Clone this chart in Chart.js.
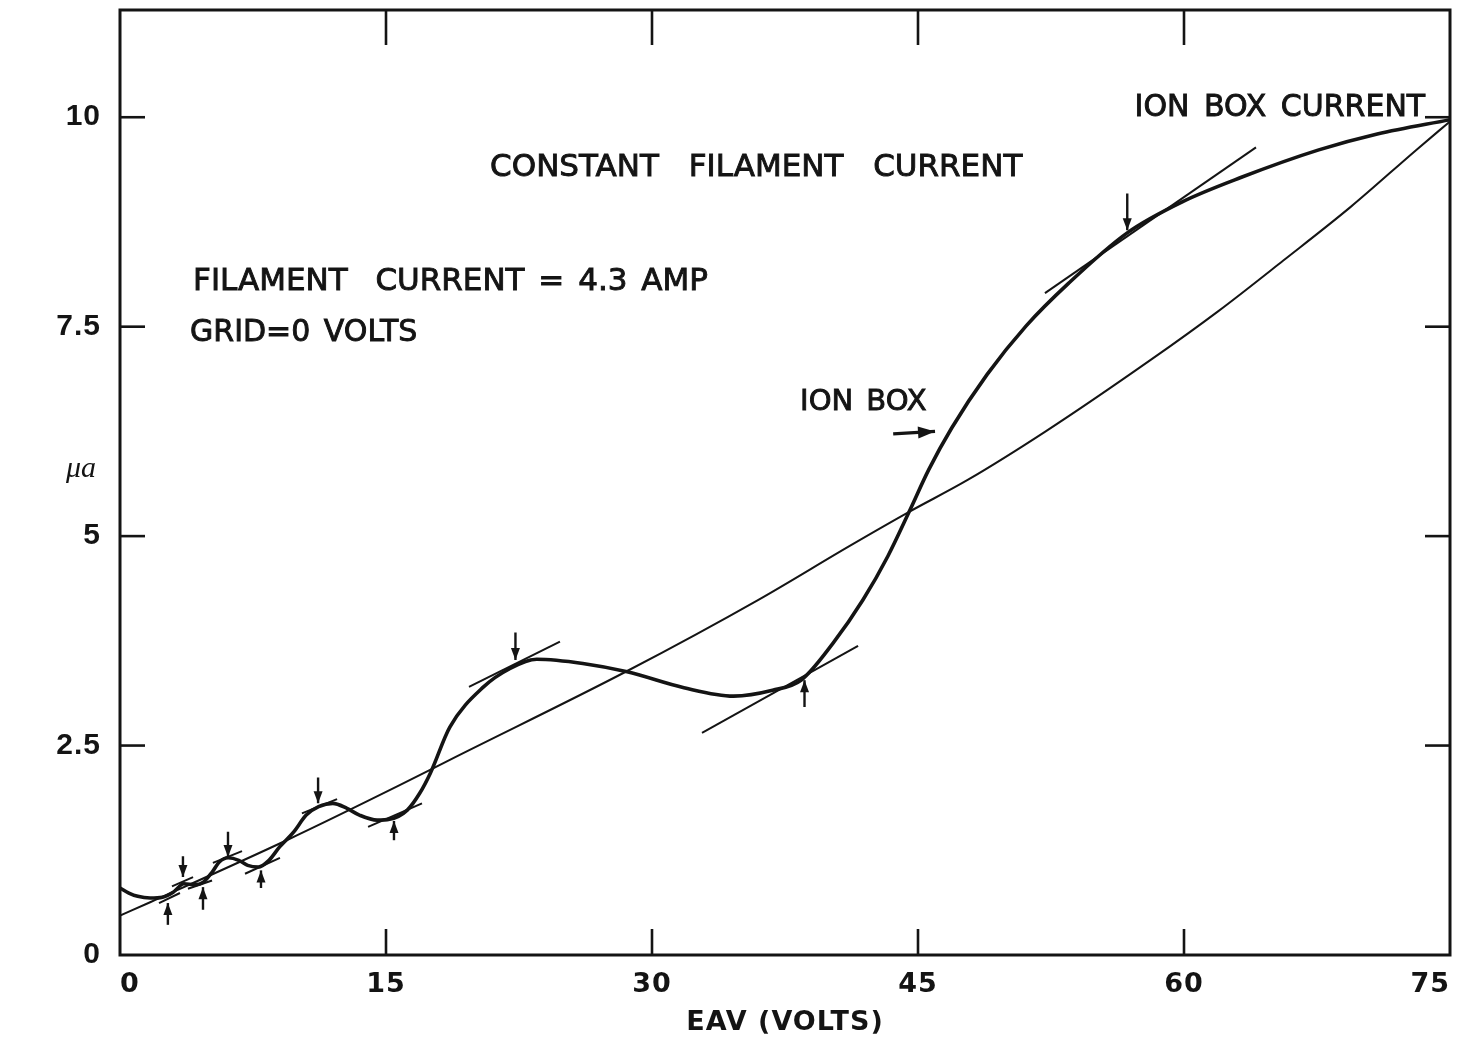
<!DOCTYPE html>
<html>
<head>
<meta charset="utf-8">
<title>Ion box current vs EAV</title>
<script src="https://cdn.jsdelivr.net/npm/chart.js@4/dist/chart.umd.min.js"></script>
<style>
  html, body { margin: 0; padding: 0; background: #fff; }
  #wrap { width: 1460px; height: 1045px; }
</style>
</head>
<body>
<div id="wrap"><canvas id="c" width="1460" height="1045"></canvas></div>
<script>
// Axis ticks
const xTicks = [0, 15, 30, 45, 60, 75];
const yTicks = [0, 2.5, 5, 7.5, 10];

// Measured ion box current (µA) against accelerating voltage EAV (V)
const curveE = [0, 0.5, 1.0, 1.7, 2.4, 3.0, 3.6, 4.2, 4.7, 5.2, 5.6, 6.1, 6.7, 7.2, 7.8, 8.4, 9.0, 9.8,
  10.5, 11.2, 12.0, 12.8, 13.5, 14.5, 15.2, 16.2, 16.9, 17.5, 18.6, 20.5, 22.0, 23.5, 26.1, 28.6,
  31.8, 34.6, 36.8, 38.4, 40.2, 41.9, 43.3, 44.5, 45.6, 46.9, 48.9, 51.1, 53.5, 56.8, 59.9, 63.2,
  67.6, 70.9, 75];
const curveI = [0.80, 0.74, 0.70, 0.68, 0.69, 0.75, 0.85, 0.84, 0.87, 0.99, 1.11, 1.16, 1.13, 1.07, 1.05,
  1.13, 1.29, 1.47, 1.67, 1.77, 1.81, 1.75, 1.67, 1.61, 1.62, 1.73, 1.93, 2.17, 2.72, 3.20, 3.42,
  3.53, 3.48, 3.38, 3.19, 3.09, 3.16, 3.28, 3.72, 4.24, 4.76, 5.29, 5.79, 6.29, 6.93, 7.51, 8.02,
  8.62, 8.99, 9.28, 9.61, 9.80, 9.97];

// Smooth baseline trend through the oscillations
const baseE = [0, 1.7, 9.4, 15.8, 18.6, 28.6, 36.0, 41.2, 44.5, 47.8, 52.2, 58.1, 61.9, 65.6, 69.4, 73.1, 75];
const baseI = [0.47, 0.63, 1.37, 2.03, 2.33, 3.39, 4.24, 4.89, 5.29, 5.67, 6.25, 7.10, 7.68, 8.29, 8.93, 9.61, 9.95];

// Tangent segments at the turning points: [E1, I1, E2, I2]
const tangents = [
  [2.20, 0.62, 3.38, 0.74],
  [2.93, 0.82, 4.12, 0.93],
  [3.83, 0.79, 5.19, 0.89],
  [5.24, 1.10, 6.88, 1.24],
  [7.05, 0.97, 9.02, 1.16],
  [10.26, 1.69, 12.24, 1.86],
  [13.99, 1.53, 17.03, 1.81],
  [19.68, 3.20, 24.81, 3.74],
  [32.82, 2.65, 41.62, 3.69],
  [52.16, 7.90, 64.06, 9.64]
];

// Vertical marker arrows: position, tail and tip current
const arrowE    = [3.55, 6.09, 11.17, 22.3, 56.8, 2.7, 4.68, 7.95, 15.45, 38.6];
const arrowTail = [1.18, 1.47, 2.12, 3.85, 9.09, 0.36, 0.54, 0.80, 1.37, 2.96];
const arrowTip  = [0.93, 1.17, 1.81, 3.52, 8.65, 0.62, 0.81, 1.01, 1.60, 3.28];

// "ION BOX" pointer: [E1, I1, E2, I2]
const ionBoxPointer = [43.6, 6.22, 45.96, 6.25];

const INK = '#141414';
const SANS = '"DejaVu Sans", "Liberation Sans", sans-serif';
const NARROW = '"Liberation Sans", Arial, sans-serif';

const toPts = (xs, ys) => xs.map((e, i) => ({ x: e, y: ys[i] }));

const datasets = [
  {
    label: 'Ion box current',
    data: toPts(curveE, curveI),
    borderColor: INK, borderWidth: 3.6,
    cubicInterpolationMode: 'monotone', pointRadius: 0, fill: false
  },
  {
    label: 'Trend',
    data: toPts(baseE, baseI),
    borderColor: INK, borderWidth: 2,
    cubicInterpolationMode: 'monotone', pointRadius: 0, fill: false
  }
];
tangents.forEach(t => datasets.push({
  data: [{ x: t[0], y: t[1] }, { x: t[2], y: t[3] }],
  borderColor: INK, borderWidth: 2, pointRadius: 0, tension: 0, fill: false
}));
arrowE.forEach((e, i) => datasets.push({
  data: [{ x: e, y: arrowTail[i] }, { x: e, y: arrowTip[i] }],
  borderColor: INK, borderWidth: 2.4, pointRadius: 0, tension: 0, fill: false
}));
datasets.push({
  data: [{ x: ionBoxPointer[0], y: ionBoxPointer[1] }, { x: ionBoxPointer[2], y: ionBoxPointer[3] }],
  borderColor: INK, borderWidth: 3.2, pointRadius: 0, tension: 0, fill: false
});

function head(ctx, x0, y0, x1, y1, len, half) {
  const a = Math.atan2(y1 - y0, x1 - x0);
  ctx.beginPath();
  ctx.moveTo(x1, y1);
  ctx.lineTo(x1 - len * Math.cos(a) + half * Math.sin(a), y1 - len * Math.sin(a) - half * Math.cos(a));
  ctx.lineTo(x1 - len * Math.cos(a) - half * Math.sin(a), y1 - len * Math.sin(a) + half * Math.cos(a));
  ctx.closePath();
  ctx.fill();
}

const decorations = {
  id: 'decorations',
  beforeDraw(chart) {
    // the stencil lettering on the axes is slightly spaced out
    if ('letterSpacing' in chart.ctx) chart.ctx.letterSpacing = '1px';
  },
  afterDatasetsDraw(chart) {
    const { ctx, scales: { x, y } } = chart;
    ctx.save();
    ctx.fillStyle = INK;
    arrowE.forEach((e, i) => {
      const px = x.getPixelForValue(e);
      head(ctx, px, y.getPixelForValue(arrowTail[i]), px, y.getPixelForValue(arrowTip[i]), 12, 4.5);
    });
    head(ctx,
      x.getPixelForValue(ionBoxPointer[0]), y.getPixelForValue(ionBoxPointer[1]),
      x.getPixelForValue(ionBoxPointer[2]), y.getPixelForValue(ionBoxPointer[3]), 17, 6);
    ctx.restore();
  },
  afterDraw(chart) {
    const { ctx, chartArea: a, scales: { x, y } } = chart;
    ctx.save();
    if ('letterSpacing' in ctx) ctx.letterSpacing = '0px';
    ctx.strokeStyle = INK;
    ctx.lineWidth = 3;
    ctx.strokeRect(a.left, a.top, a.right - a.left, a.bottom - a.top);
    const seg = (x0, y0, x1, y1) => { ctx.beginPath(); ctx.moveTo(x0, y0); ctx.lineTo(x1, y1); ctx.stroke(); };
    ctx.lineWidth = 2.6;
    yTicks.filter(v => v > 0).forEach(v => {
      const py = y.getPixelForValue(v);
      seg(a.left, py, a.left + 25, py);
      seg(a.right - 25, py, a.right, py);
    });
    xTicks.filter(v => v > 0 && v < 75).forEach(v => {
      const px = x.getPixelForValue(v);
      seg(px, a.top, px, a.top + 35);
      seg(px, a.bottom - 26, px, a.bottom);
    });

    // Annotations
    ctx.fillStyle = INK;
    ctx.strokeStyle = INK;
    ctx.lineWidth = 0.9;
    ctx.textBaseline = 'middle';
    const note = (text, e, v, align, size, spacing) => {
      ctx.font = size + 'px ' + SANS;
      ctx.textAlign = align;
      if ('wordSpacing' in ctx) ctx.wordSpacing = spacing + 'px';
      const px = x.getPixelForValue(e), py = y.getPixelForValue(v);
      ctx.fillText(text, px, py);
      ctx.strokeText(text, px, py);
      if ('wordSpacing' in ctx) ctx.wordSpacing = '0px';
    };
    note('CONSTANT FILAMENT CURRENT', 20.87, 9.40, 'left', 31, 20);
    note('FILAMENT  CURRENT = 4.3 AMP', 4.12, 8.03, 'left', 31, 4);
    note('GRID=0 VOLTS', 3.95, 7.42, 'left', 30, 4);
    note('ION BOX', 38.35, 6.60, 'left', 29, 4);
    note('ION BOX CURRENT', 73.6, 10.11, 'right', 30, 5);

    // Vertical axis unit
    ctx.font = 'italic 30px "Liberation Serif", serif';
    ctx.textAlign = 'center';
    ctx.fillText('\u03BCa', a.left - 39, y.getPixelForValue(5.8));
    ctx.restore();
  }
};

new Chart(document.getElementById('c'), {
  type: 'line',
  data: { datasets },
  options: {
    responsive: false,
    animation: false,
    events: [],
    layout: { padding: { top: 10, right: 10, left: 0, bottom: 0 } },
    plugins: { legend: { display: false }, tooltip: { enabled: false } },
    scales: {
      x: {
        type: 'linear', min: 0, max: 75,
        afterBuildTicks: s => { s.ticks = xTicks.map(v => ({ value: v })); },
        afterFit: s => { s.height = 90; s.paddingLeft = 0; s.paddingRight = 0; },
        grid: { display: false, drawTicks: false },
        border: { display: false },
        ticks: {
          align: 'inner', padding: 14, color: INK, maxRotation: 0,
          font: { family: SANS, size: 27, weight: 'bold', lineHeight: 1.2 },
          callback: v => String(v)
        },
        title: {
          display: true, text: 'EAV (VOLTS)', color: INK,
          font: { family: SANS, size: 27, weight: 'bold', lineHeight: 1.2 },
          padding: { top: 0, bottom: 6 }
        }
      },
      y: {
        type: 'linear', min: 0, max: 11.28,
        afterBuildTicks: s => { s.ticks = yTicks.map(v => ({ value: v })); },
        afterFit: s => { s.width = 120; s.paddingTop = 0; s.paddingBottom = 0; },
        grid: { display: false, drawTicks: false },
        border: { display: false },
        ticks: {
          padding: 19, color: INK,
          font: { family: NARROW, size: 30, weight: 'bold', lineHeight: 1.2 },
          callback: v => String(v)
        }
      }
    }
  },
  plugins: [decorations]
});
</script>
</body>
</html>
